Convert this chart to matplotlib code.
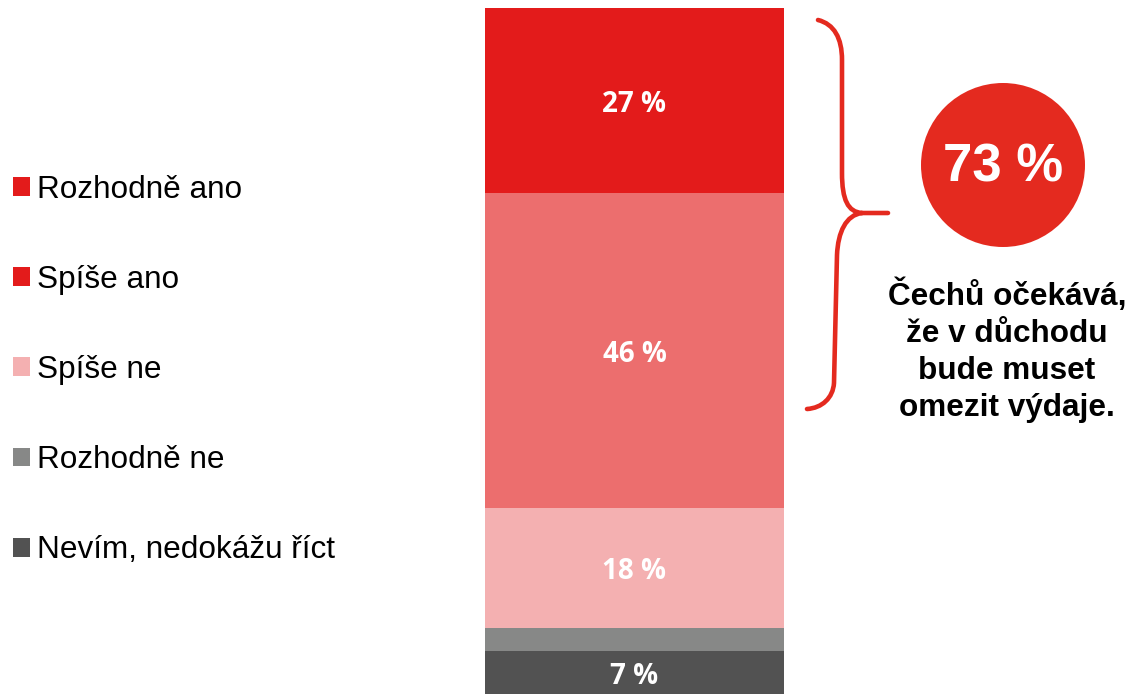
import matplotlib
matplotlib.use("Agg")
import matplotlib.pyplot as plt
from matplotlib.patches import Patch, Circle, PathPatch
from matplotlib.path import Path

# data (bottom -> top)
categories = ["Nevím, nedokážu říct", "Rozhodně ne", "Spíše ne", "Spíše ano", "Rozhodně ano"]
values = [7, 3.4, 17.5, 46, 27]
labels = ["7 %", "", "18 %", "46 %", "27 %"]
colors = ["#525252", "#878887", "#F4B0B1", "#EC6E6E", "#E31B1B"]
legend_colors = ["#525252", "#878887", "#F4B0B1", "#E31B1B", "#E31B1B"]
total_text = "73 %"
note_text = "Čechů očekává,\nže v důchodu\nbude muset\nomezit výdaje."

W, H = 1132, 694
fig = plt.figure(figsize=(W / 100, H / 100), dpi=100)

# stacked bar - bottom is cut by the figure edge like in the original
ax = fig.add_axes([485 / W, -5 / H, 299 / W, 691 / H])
bottom = 0
for v, lab, c in zip(values, labels, colors):
    ax.bar(0, v, width=1, bottom=bottom, color=c, linewidth=0)
    if lab:
        yc = bottom + v / 2 - 0.6
        if bottom == 0:
            yc += 0.4
        ax.text(0, yc, lab, ha="center", va="center", color="white",
                fontsize=20, fontweight="bold", family=["Open Sans", "DejaVu Sans"])
    bottom += v
ax.set_xlim(-0.5, 0.5)
ax.set_ylim(0, bottom)
ax.axis("off")

# legend (top -> bottom)
handles = [Patch(facecolor=c, edgecolor="none") for c in legend_colors[::-1]]
fig.legend(handles, categories[::-1], loc="center left",
           bbox_to_anchor=(13 / W, 1 - 370 / H), frameon=False,
           prop={"family": "Liberation Sans", "size": 22.7},
           handlelength=0.54, handleheight=0.54, handletextpad=0.22,
           labelspacing=1.91, borderpad=0, borderaxespad=0)

# overlay for brace, circle and note (pixel coords)
ov = fig.add_axes([0, 0, 1, 1])
ov.set_xlim(0, W)
ov.set_ylim(H, 0)
ov.axis("off")

red = "#E42A1F"
verts = [(818, 20), (834, 24), (842, 38), (842, 60),
         (842, 173),
         (842, 200), (848, 212), (862, 213),
         (888, 213),
         (862, 213),
         (846, 215), (838, 232), (837, 255),
         (834, 383),
         (833, 398), (822, 408), (807, 409)]
codes = [Path.MOVETO, Path.CURVE4, Path.CURVE4, Path.CURVE4,
         Path.LINETO,
         Path.CURVE4, Path.CURVE4, Path.CURVE4,
         Path.LINETO,
         Path.MOVETO,
         Path.CURVE4, Path.CURVE4, Path.CURVE4,
         Path.LINETO,
         Path.CURVE4, Path.CURVE4, Path.CURVE4]
ov.add_patch(PathPatch(Path(verts, codes), facecolor="none", edgecolor=red,
                       linewidth=3.3, capstyle="round", joinstyle="round"))

ov.add_patch(Circle((1003, 165), 82, facecolor=red, edgecolor="none"))
ov.text(1003, 167, total_text, ha="center", va="center", color="white",
        fontsize=38, fontweight="bold", family="Liberation Sans")
ov.text(1007, 351, note_text, ha="center", va="center", color="black",
        fontsize=22.7, fontweight="bold", family="Liberation Sans",
        linespacing=1.3)

fig.savefig("out.png", dpi=100)
